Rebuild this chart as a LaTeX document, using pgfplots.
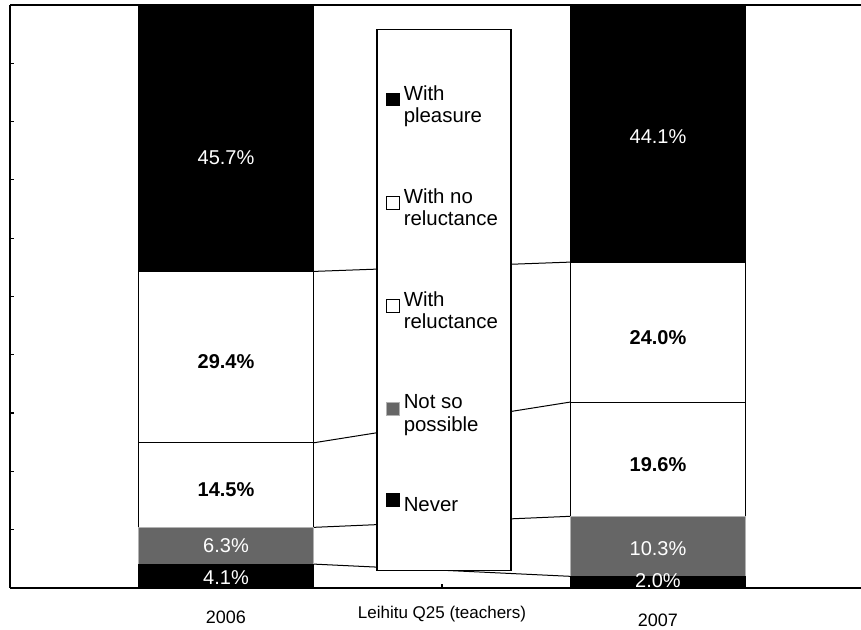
\documentclass[border=0pt]{standalone}
\usepackage{pgfplots}
\pgfplotsset{compat=1.18}
\usepackage{pgfplotstable}
\usepackage{fontspec}
\setmainfont{Liberation Sans}
\definecolor{halftone}{gray}{0.4}

\pgfplotstableread{
x never notso reluct noreluct pleasure
0 4.1 6.3 14.5 29.4 45.7
2 2.0 10.3 19.6 24.0 44.1
}\bars

\pgfplotstableread{
x y label
0 73.8 45.7
0 7.2 6.3
0 1.7 4.1
2 77.5 44.1
2 6.7 10.3
2 1.2 2.0
}\whitelabels

\pgfplotstableread{
x y label
0 38.8 29.4
0 16.8 14.5
2 42.9 24.0
2 21.1 19.6
}\blacklabels

\pgfplotsset{
  common/.style={
    at={(0,0)}, anchor=south west,
    scale only axis, width=425.5pt, height=291.5pt,
    xmin=-1, xmax=2.94, ymin=0, ymax=100,
  },
  leg/.style={legend image code/.code={\draw[##1] (0pt,-0.2pt) rectangle (6.3pt,6.1pt);}},
}

\begin{document}
\begin{tikzpicture}
\path[use as bounding box] (-5pt,-21pt) rectangle (425.5pt,294pt);
% connector lines (behind)
\begin{axis}[common, hide axis]
\addplot[black, line width=0.5pt] coordinates {(0.405,4.1) (1.595,2.0)};
\addplot[black, line width=0.5pt] coordinates {(0.405,10.4) (1.595,12.3)};
\addplot[black, line width=0.5pt] coordinates {(0.405,24.9) (1.595,31.9)};
\addplot[black, line width=0.5pt] coordinates {(0.405,54.3) (1.595,55.9)};
\end{axis}
% bars
\begin{axis}[common,
  axis x line*=bottom, axis y line*=left,
  axis line style={line width=0.8pt},
  ybar stacked, bar width=0.81,
  xtick={0,1,2},
  xticklabels={2006, {\raisebox{2.5pt}{\fontsize{8.5}{10}\selectfont Leihitu Q25 (teachers)}}, {\raisebox{-1.5pt}{2007}}},
  xticklabel style={anchor=base, yshift=-18pt, font=\fontsize{9}{11}\selectfont},
  ytick={0,10,...,100}, yticklabels={},
  tick align=inside, major tick length=2pt,
  tick style={black, line width=0.6pt},
  legend style={at={(0.51,0.494)}, anchor=center, draw=black, line width=0.7pt, fill=white,
    font=\fontsize{10.2}{11.2}\selectfont, cells={align=left, anchor=west},
    row sep=27.5pt, inner xsep=4.5pt, inner ysep=26pt},
  reverse legend,
]
\addplot[fill=black, draw=black, line width=0.5pt, leg] table[x=x, y=never]{\bars};
\addplot[fill=halftone, draw=gray!60, line width=0.5pt, leg] table[x=x, y=notso]{\bars};
\addplot[fill=white, draw=black, line width=0.5pt, leg] table[x=x, y=reluct]{\bars};
\addplot[fill=white, draw=black, line width=0.5pt, leg] table[x=x, y=noreluct]{\bars};
\addplot[fill=black, draw=black, line width=0.5pt, leg] table[x=x, y=pleasure]{\bars};
\legend{Never, Not so\\possible, With\\reluctance, With no\\reluctance, With\\pleasure}
\draw[line width=0.8pt] (rel axis cs:0,1) -- (rel axis cs:1,1);
\end{axis}
% labels
\begin{axis}[common, hide axis]
\addplot[draw=none, mark=none, nodes near coords={\pgfplotspointmeta\%}, point meta=explicit symbolic,
  every node near coord/.append style={anchor=center, text=white, font=\fontsize{10}{12}\selectfont}]
  table[x=x, y=y, meta=label]{\whitelabels};
\addplot[draw=none, mark=none, nodes near coords={\pgfplotspointmeta\%}, point meta=explicit symbolic,
  every node near coord/.append style={anchor=center, text=black, font=\fontsize{10}{12}\selectfont\bfseries}]
  table[x=x, y=y, meta=label]{\blacklabels};
\end{axis}
\end{tikzpicture}
\end{document}
